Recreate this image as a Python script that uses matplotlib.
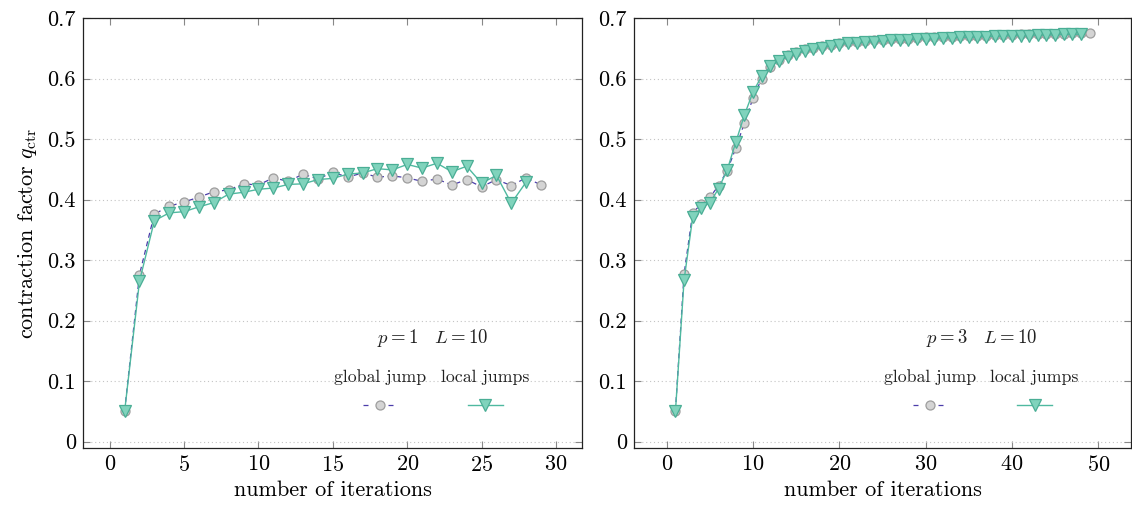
import numpy as np
import matplotlib
matplotlib.use("Agg")
import matplotlib.pyplot as plt

plt.rcParams['font.family'] = 'serif'
plt.rcParams['font.serif'] = ['cmr10']
plt.rcParams['mathtext.fontset'] = 'cm'
plt.rcParams['axes.formatter.use_mathtext'] = True

# p = 1, L = 10
it_g1 = np.arange(1, 30)
global1 = [0.051, 0.276, 0.376, 0.389, 0.396, 0.404, 0.413, 0.416, 0.426, 0.424,
           0.436, 0.430, 0.442, 0.434, 0.445, 0.437, 0.444, 0.437, 0.439, 0.436,
           0.430, 0.434, 0.424, 0.433, 0.421, 0.433, 0.423, 0.436, 0.424]
it_l1 = np.arange(1, 29)
local1 = [0.050, 0.265, 0.365, 0.378, 0.380, 0.388, 0.395, 0.409, 0.412, 0.417,
          0.419, 0.425, 0.426, 0.433, 0.435, 0.442, 0.444, 0.451, 0.449, 0.458,
          0.452, 0.460, 0.446, 0.455, 0.427, 0.440, 0.394, 0.429]

# p = 3, L = 10
it_g3 = np.arange(1, 50)
global3 = [0.051, 0.277, 0.378, 0.393, 0.404, 0.423, 0.448, 0.485, 0.527, 0.568,
           0.600, 0.619, 0.630, 0.639, 0.644, 0.648, 0.651, 0.654, 0.656, 0.658,
           0.660, 0.661, 0.662, 0.663, 0.664, 0.665, 0.666, 0.666, 0.667, 0.668,
           0.668, 0.669, 0.669, 0.670, 0.670, 0.671, 0.671, 0.672, 0.672, 0.672,
           0.673, 0.673, 0.673, 0.674, 0.674, 0.674, 0.675, 0.675, 0.675]
it_l3 = np.arange(1, 49)
local3 = [0.050, 0.267, 0.371, 0.386, 0.395, 0.418, 0.449, 0.495, 0.540, 0.578,
          0.604, 0.620, 0.629, 0.636, 0.641, 0.645, 0.648, 0.651, 0.654, 0.656,
          0.658, 0.659, 0.660, 0.661, 0.662, 0.663, 0.664, 0.664, 0.665, 0.666,
          0.666, 0.667, 0.667, 0.668, 0.668, 0.669, 0.669, 0.670, 0.670, 0.671,
          0.671, 0.671, 0.672, 0.672, 0.672, 0.673, 0.673, 0.673]

c_dash = '#4b3daa'
c_circ_f, c_circ_e = '#d4d4d4', '#9e9e9e'
c_line = '#4fb9a0'
c_tri_f, c_tri_e = '#80d3bc', '#4aae95'

fig = plt.figure(figsize=(11.32, 5.08), dpi=100)
ax1 = fig.add_axes([0.0733, 0.1181, 0.4408, 0.8465])
ax2 = fig.add_axes([0.5601, 0.1181, 0.4390, 0.8465])

paneles = [(ax1, it_g1, global1, it_l1, local1, '$p = 1\\quad L = 10$', (-1.8, 31.75), [0, 5, 10, 15, 20, 25, 30]),
           (ax2, it_g3, global3, it_l3, local3, '$p = 3\\quad L = 10$', (-3.8, 53.8), [0, 10, 20, 30, 40, 50])]

for ax, xg, yg, xl, yl, titulo, xlim, xt in paneles:
    ax.plot(xg, yg, linestyle=(0, (4, 3)), color=c_dash, linewidth=0.9, marker='o',
            markersize=6.5, markerfacecolor=c_circ_f, markeredgecolor=c_circ_e,
            markeredgewidth=0.9, zorder=3)
    ax.plot(xl, yl, linestyle='-', color=c_line, linewidth=1.0, marker='v',
            markersize=8, markerfacecolor=c_tri_f, markeredgecolor=c_tri_e,
            markeredgewidth=0.9, zorder=4)
    ax.set_xlim(*xlim)
    ax.set_ylim(-0.0105, 0.7)
    ax.set_xticks(xt)
    ax.set_yticks([0, 0.1, 0.2, 0.3, 0.4, 0.5, 0.6, 0.7])
    ax.set_yticklabels(['0', '0.1', '0.2', '0.3', '0.4', '0.5', '0.6', '0.7'])
    ax.yaxis.grid(True, linestyle=(0, (1, 2.5)), color='#c4c4c4', linewidth=0.8)
    ax.set_axisbelow(True)
    ax.tick_params(direction='in', length=5, width=0.8, color='#888888',
                   top=True, right=True, labelsize=16, pad=5)
    for s in ax.spines.values():
        s.set_linewidth(0.9)
        s.set_color('#222222')
    ax.set_xlabel('number of iterations', fontsize=16, labelpad=4)

    # leyenda
    ax.text(0.70, 0.255, titulo, transform=ax.transAxes, ha='center', va='center',
            fontsize=13.5, color='#222222')
    ax.text(0.595, 0.165, 'global jump', transform=ax.transAxes, ha='center',
            va='center', fontsize=12.8, color='#222222')
    ax.text(0.806, 0.165, 'local jumps', transform=ax.transAxes, ha='center',
            va='center', fontsize=12.8, color='#222222')
    ax.plot([0.562, 0.628], [0.10, 0.10], transform=ax.transAxes, linestyle=(0, (4, 6)),
            color=c_dash, linewidth=0.9, clip_on=False)
    ax.plot([0.595], [0.10], transform=ax.transAxes, marker='o', markersize=6.5,
            markerfacecolor=c_circ_f, markeredgecolor=c_circ_e, markeredgewidth=0.9)
    ax.plot([0.771, 0.841], [0.10, 0.10], transform=ax.transAxes, color=c_line,
            linewidth=1.0)
    ax.plot([0.806], [0.10], transform=ax.transAxes, marker='v', markersize=8,
            markerfacecolor=c_tri_f, markeredgecolor=c_tri_e, markeredgewidth=0.9)

ax1.set_ylabel('contraction factor $q_{\\mathrm{ctr}}$', fontsize=16, labelpad=6)

fig.savefig('out.png', dpi=100)
